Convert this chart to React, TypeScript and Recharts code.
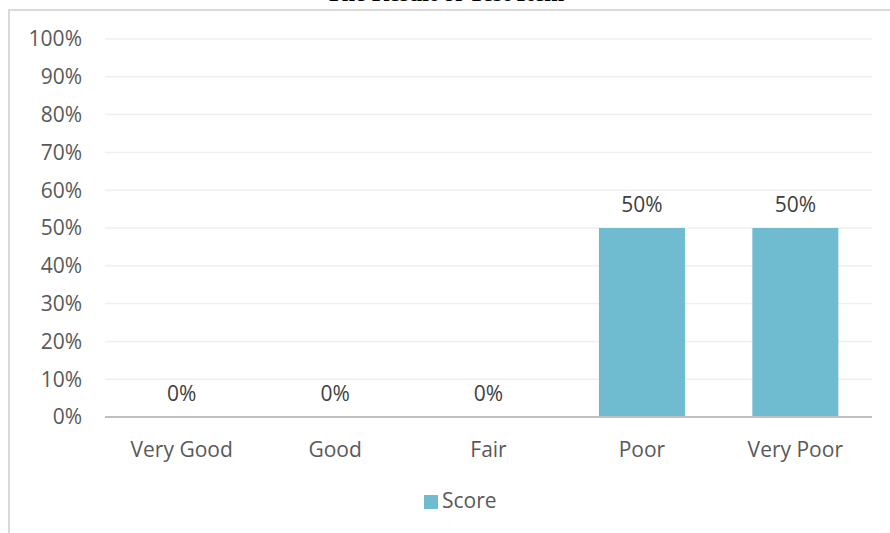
import { Bar, BarChart, CartesianGrid, LabelList, Legend, XAxis, YAxis } from 'recharts';

const categories = ['Very Good', 'Good', 'Fair', 'Poor', 'Very Poor'];
const scores = [0, 0, 0, 0.5, 0.5];
const yTicks = [0, 0.1, 0.2, 0.3, 0.4, 0.5, 0.6, 0.7, 0.8, 0.9, 1];

const data = categories.map((name, i) => ({ name, score: scores[i] }));

const pct = (v: any) => `${Math.round(Number(v) * 100)}%`;
const font = '"Open Sans", sans-serif';

// draw labels ourselves so the 0% bars get one too
const ValueLabel = (props: any) => {
  const { x, y, width, value } = props;
  return (
    <text x={Number(x) + Number(width) / 2} y={Number(y) - 16} textAnchor="middle" fill="#404040" fontSize={21} fontFamily={font}>
      {pct(value)}
    </text>
  );
};

export default function App() {
  return (
    <div style={{ position: 'absolute', left: 0, top: 0, width: 890, height: 533, overflow: 'hidden', background: '#fff' }}>
      <div
        style={{
          position: 'absolute', left: 8, top: 9, width: 890, height: 600,
          borderLeft: '2px solid #d9d9d9', borderTop: '2px solid #d9d9d9', boxSizing: 'border-box'
        }}
      />
      <div
        style={{
          position: 'absolute', left: 0, width: 890, top: -20, textAlign: 'center',
          fontFamily: '"Liberation Serif", serif', fontWeight: 'bold', fontSize: 24, color: '#000'
        }}
      >
        The Result of Test Item
      </div>
      <div style={{ position: 'absolute', left: 0, top: 0 }}>
        <BarChart width={890} height={533} data={data} margin={{ top: 39, right: 18, bottom: 58, left: 0 }} barCategoryGap="22%">
          <CartesianGrid vertical={false} stroke="#efefef" strokeWidth={1.5} />
          <XAxis
            dataKey="name"
            tickLine={false}
            axisLine={{ stroke: '#bfbfbf', strokeWidth: 2 }}
            tickMargin={19}
            tick={{ fill: '#595959', fontSize: 21, fontFamily: font }}
          />
          <YAxis
            width={105}
            domain={[0, 1]}
            ticks={yTicks}
            tickFormatter={pct}
            axisLine={false}
            tickLine={false}
            tickMargin={17}
            tick={{ fill: '#595959', fontSize: 21, fontFamily: font }}
          />
          <Legend
            verticalAlign="bottom"
            iconType="square"
            iconSize={14}
            wrapperStyle={{ fontFamily: font, fontSize: 21, top: 486, left: 424, width: 'auto' }}
            formatter={(value: any) => <span style={{ color: '#595959' }}>{value}</span>}
          />
          <Bar dataKey="score" name="Score" fill="#6fbbd0" minPointSize={0.01} isAnimationActive={false}>
            <LabelList dataKey="score" content={ValueLabel} />
          </Bar>
        </BarChart>
      </div>
    </div>
  );
}
